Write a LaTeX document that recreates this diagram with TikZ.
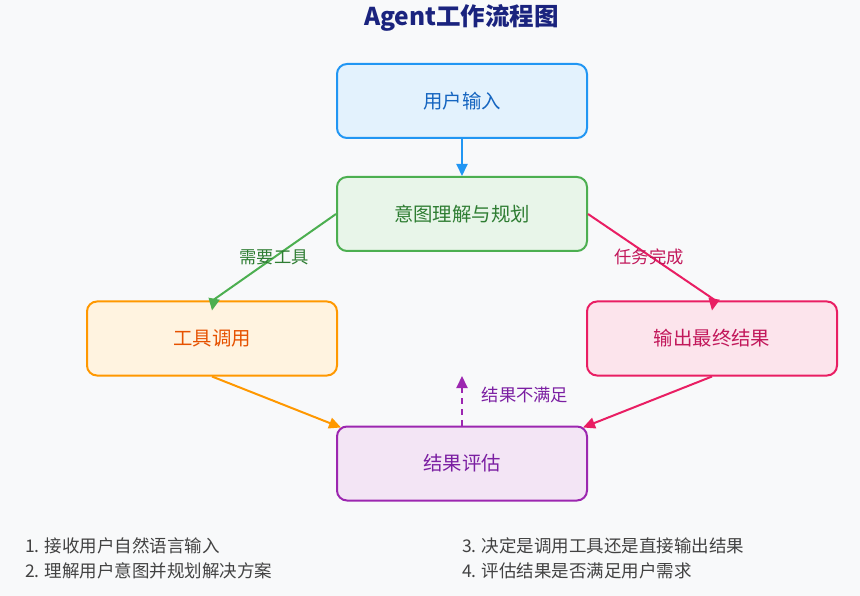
\documentclass[tikz,border=0pt]{standalone}
\usepackage{fontspec}
\setmainfont{Noto Sans CJK SC}
\usetikzlibrary{arrows.meta,calc}
\definecolor{bg}{HTML}{F8F9FA}
\definecolor{titlec}{HTML}{1A237E}
\definecolor{bB}{HTML}{2196F3}\definecolor{bF}{HTML}{E3F2FD}\definecolor{bT}{HTML}{1565C0}
\definecolor{gB}{HTML}{4CAF50}\definecolor{gF}{HTML}{E8F5E9}\definecolor{gT}{HTML}{2E7D32}
\definecolor{oB}{HTML}{FF9800}\definecolor{oF}{HTML}{FFF3E0}\definecolor{oT}{HTML}{E65100}
\definecolor{pB}{HTML}{E91E63}\definecolor{pF}{HTML}{FCE4EC}\definecolor{pT}{HTML}{C2185B}
\definecolor{vB}{HTML}{9C27B0}\definecolor{vF}{HTML}{F3E5F5}\definecolor{vT}{HTML}{7B1FA2}
\definecolor{noteT}{HTML}{424242}
\tikzset{
  box/.style={draw, rectangle, rounded corners=10pt, line width=2pt,
    minimum width=250pt, minimum height=74pt, inner sep=0pt,
    font=\fontsize{19.4}{23}\selectfont},
  tip/.style={-{Triangle[length=12pt,width=11pt]}},
  conn/.style={line width=2pt},
  lbl/.style={font=\fontsize{17.3}{20}\selectfont, inner sep=0pt},
  note/.style={font=\fontsize{17.5}{20}\selectfont, text=noteT, anchor=west, inner sep=0pt}
}
\begin{document}
\begin{tikzpicture}[x=1pt,y=-1pt]
\fill[bg] (0,0) rectangle (860,596);
\useasboundingbox (0,0) rectangle (860,596);
\node[font=\fontsize{24.5}{28}\selectfont\bfseries, text=titlec] (title) at (461.5,18) {Agent工作流程图};
\node[box, draw=bB, fill=bF, text=bT] (u) at (462,101) {用户输入};
\node[box, draw=gB, fill=gF, text=gT] (i) at (462,214) {意图理解与规划};
\node[box, draw=oB, fill=oF, text=oT] (t) at (212,338.5) {工具调用};
\node[box, draw=pB, fill=pF, text=pT] (o) at (712,338.5) {输出最终结果};
\node[box, draw=vB, fill=vF, text=vT] (e) at (462,463.5) {结果评估};
% connectors
\draw[conn, bB, tip] (u.south) -- (i.north);
\draw[conn, gB] (i.west) -- ($(t.north)+(2,-1)$) edge[tip] ($(t.north)+(0,10)$);
\draw[conn, pB] (i.east) -- ($(o.north)+(2,-1)$) edge[tip] ($(o.north)+(0,10)$);
\draw[conn, oB, tip] (t.south) -- ($(e.north west)+(5,2)$);
\draw[conn, pB, tip] (o.south) -- ($(e.north east)+(-5,2)$);
\coordinate (fb) at (462,376);
\draw[conn, vB, dash pattern=on 6pt off 5pt, tip] (e.north) -- (fb);
% labels
\node[lbl, text=gT] (l1) at (274,257) {需要工具};
\node[lbl, text=pT] (l2) at (649,257) {任务完成};
\node[lbl, text=vT] (l3) at (525,395) {结果不满足};
% notes
\node[note] (n1) at (25,546) {1. 接收用户自然语言输入};
\node[note] (n2) at (25,571) {2. 理解用户意图并规划解决方案};
\node[note] (n3) at (462,546) {3. 决定是调用工具还是直接输出结果};
\node[note] (n4) at (462,571) {4. 评估结果是否满足用户需求};
\end{tikzpicture}
\end{document}
